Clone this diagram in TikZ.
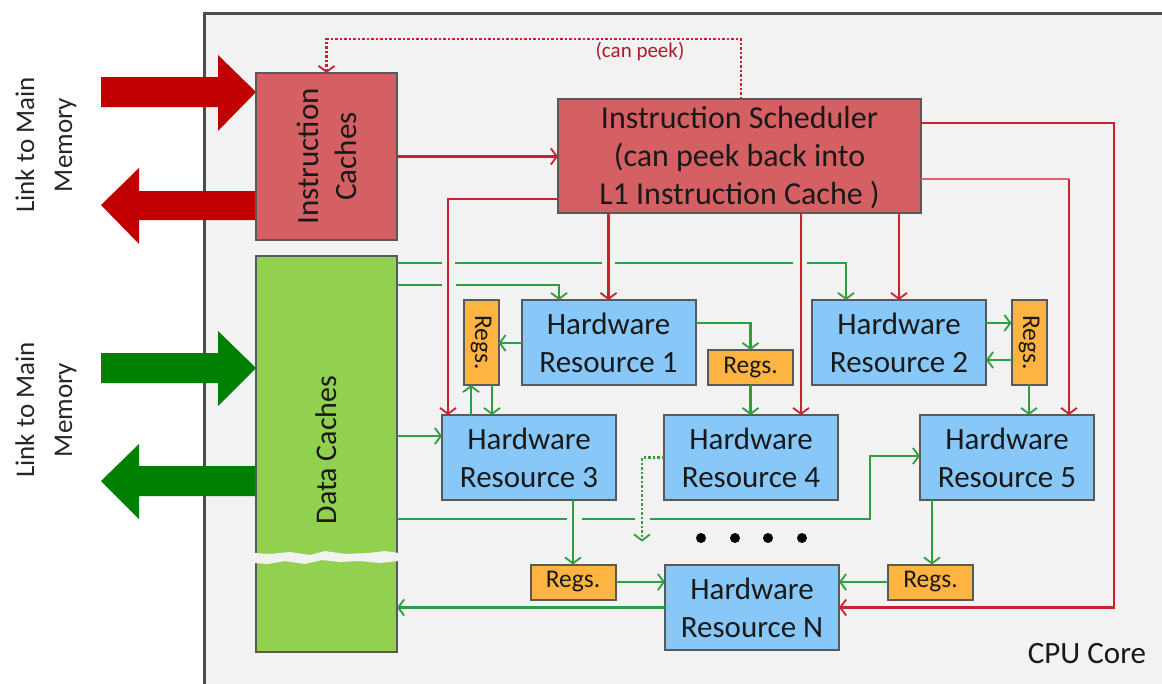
\documentclass[tikz,border=0pt]{standalone}
\usepackage{fontspec}
\setmainfont{Carlito}
\usetikzlibrary{arrows.meta,calc}
\definecolor{bgc}{HTML}{F2F2F2}
\definecolor{redfill}{HTML}{D56063}
\definecolor{redline}{HTML}{C8222F}
\definecolor{bigred}{HTML}{C00000}
\definecolor{greenfill}{HTML}{92D050}
\definecolor{greenline}{HTML}{2F9E3F}
\definecolor{biggreen}{HTML}{008000}
\definecolor{bluefill}{HTML}{87C8F8}
\definecolor{orangefill}{HTML}{FFB341}
\definecolor{edgec}{HTML}{595959}
\tikzset{
  x=1pt,y=-1pt,
  box/.style={draw=edgec,line width=2pt,inner sep=0pt,outer sep=0pt,align=center,text=black!90,font=\fontsize{31}{38}\selectfont},
  redbox/.style={box,fill=redfill},
  greenbox/.style={box,fill=greenfill},
  hw/.style={box,fill=bluefill,minimum width=174pt,minimum height=85pt},
  regsh/.style={box,fill=orangefill,minimum width=85pt,minimum height=35pt,font=\fontsize{25.5}{30}\selectfont},
  regsv/.style={regsh,rotate=-90},
  rline/.style={draw=redline,line width=2.2pt,-{Straight Barb[length=6pt,width=16pt,line width=1.8pt]}},
  gline/.style={draw=greenline,line width=2.2pt,-{Straight Barb[length=6pt,width=16pt,line width=1.8pt]}},
  dotline/.style={dash pattern=on 2.5pt off 2pt},
  lbl/.style={align=center,inner sep=0pt,text=black!85,font=\fontsize{27}{38}\selectfont},
}
\begin{document}
\begin{tikzpicture}
\clip (0,0) rectangle (1162,683);
\fill[white] (0,0) rectangle (1162,683);
% CPU core
\node[draw=black!70,line width=3pt,fill=bgc,minimum width=1000pt,minimum height=720pt,inner sep=0pt,outer sep=0pt] (cpu) at (704,373) {};
% big arrows
\fill[bigred] (101,77) -- (218,77) -- (218,55) -- (256,92) -- (218,131) -- (218,107) -- (101,107) -- cycle;
\fill[bigred] (256,191) -- (139,191) -- (139,168) -- (101,205) -- (139,244) -- (139,220) -- (256,220) -- cycle;
\fill[biggreen] (101,353) -- (218,353) -- (218,331) -- (256,368) -- (218,406) -- (218,383) -- (101,383) -- cycle;
\fill[biggreen] (256,466) -- (139,466) -- (139,444) -- (101,481) -- (139,519) -- (139,496) -- (256,496) -- cycle;
\node[lbl,rotate=90] (link1) at (46,145) {Link to Main\\Memory};
\node[lbl,rotate=90] (link2) at (46,410) {Link to Main\\Memory};
% main boxes
\node[redbox,rotate=90,minimum width=167pt,minimum height=141pt] (ic) at (326.5,156.5) {Instruction\\Caches};
\node[redbox,minimum width=363pt,minimum height=114pt,font=\fontsize{32}{38}\selectfont] (sched) at (739.5,156) {\rule{0pt}{26pt}Instruction Scheduler\\(can peek back into\\L1 Instruction Cache )};
\node[greenbox,minimum width=141pt,minimum height=396pt] (dc) at (326.5,454) {};
\node[rotate=90,inner sep=0pt,text=black!90,font=\fontsize{30}{36}\selectfont] (dctext) at (326,450) {Data Caches};
\fill[bgc] (254,553) -- (270,554) -- (290,552) -- (310,555) -- (325,551) -- (345,554) -- (368,553) -- (385,551) -- (399,553)
  -- (399,561) -- (380,563) -- (360,561) -- (340,562) -- (322,560) -- (305,564) -- (285,561) -- (268,564) -- (254,563) -- cycle;
\node[hw] (hr1) at (608.5,342.5) {Hardware\\Resource 1};
\node[hw] (hr2) at (899,342.5) {Hardware\\Resource 2};
\node[hw] (hr3) at (529,457.5) {Hardware\\Resource 3};
\node[hw] (hr4) at (751,457.5) {Hardware\\Resource 4};
\node[hw] (hr5) at (1007,457.5) {Hardware\\Resource 5};
\node[hw] (hrn) at (752,607.5) {Hardware\\Resource N};
\node[regsv] (ra) at (481,342.5) {Regs.};
\node[regsh] (rb) at (750.5,367.5) {Regs.};
\node[regsv] (rc) at (1029,342.5) {Regs.};
\node[regsh] (rd) at (573,582) {Regs.};
\node[regsh] (re) at (930.5,582) {Regs.};
% green connectors
\draw[gline] ([yshift=-7pt]dc.north east) -- ++(45,0) ++(13,0) -- ++(147,0) ++(13,0) -- ++(178,0) ++(14,0) -| ([xshift=-53pt]hr2.north);
\draw[gline] ([yshift=-29pt]dc.north east) -- ++(45,0) ++(14,0) -| ([xshift=-49.5pt]hr1.north);
\draw[gline] ([yshift=18pt]dc.east) -- ([yshift=21.5pt]hr3.west);
\draw[gline,line width=1.6pt] ([yshift=133pt]dc.south east) -- ++(170,0) ++(15,0) -- ++(53,0) ++(15,0) -- ++(220,0) -- ++(0,-63) -- ([yshift=1.5pt]hr5.west);
\draw[gline] ([yshift=-0.5pt]hr1.west) -- ([yshift=-0.5pt]ra.north);
\draw[gline] ([xshift=-10pt]ra.east |- hr3.north) -- ([xshift=-10pt]ra.east);
\draw[gline] ([xshift=11pt]ra.east) -- ([xshift=11pt]ra.east |- hr3.north);
\draw[gline] ([yshift=19.5pt]hr1.east) -| (rb.north);
\draw[gline] (rb.south) -- (rb.south |- hr4.north);
\draw[gline] ([yshift=19.5pt]hr2.east) -- ([yshift=19.5pt]hr2.east -| rc.south);
\draw[gline] ([yshift=-17.5pt]rc.south) -- ([yshift=-17.5pt]rc.south -| hr2.east);
\draw[gline] (rc.east) -- (rc.east |- hr5.north);
\draw[gline] ([xshift=44pt]hr3.south) -- (rd.north);
\draw[gline,line width=1.6pt] (rd.east) -- (rd.east -| hrn.west);
\draw[gline,line width=1.6pt] (re.west) -- (re.west -| hrn.east);
\draw[gline] ([xshift=-75pt]hr5.south) -- ([xshift=1.5pt]re.north);
\draw[gline] (hrn.west) -- (hrn.west -| dc.east);
\draw[gline,dotline] (hr4.west) -- ++(-22,0) -- ++(0,84);
% red connectors
\draw[rline,dotline] ([xshift=1.5pt]sched.north) -- ++(0,-60) -| (ic.east);
\draw[rline] (ic.south) -- (ic.south -| sched.west);
\draw[rline] ([yshift=-43pt]sched.east -| sched.west) -| ([xshift=-81pt]hr3.north);
\draw[rline] (sched.south -| hr1.north) -- (hr1.north);
\draw[rline] (sched.south -| hr2.north) -- (hr2.north);
\draw[rline] ([xshift=50pt]hr4.north |- sched.south) -- ([xshift=50pt]hr4.north);
\draw[redline!70,line width=1.2pt] ([yshift=-23pt]sched.east) -- ++(148,0) coordinate (bend5);
\draw[rline] (bend5) -- ([xshift=62pt]hr5.north);
\draw[rline] ([yshift=33pt]sched.east) -- ++(193,0) |- (hrn.east);
\node[inner sep=0pt,text=redline!85!black,font=\fontsize{21}{25}\selectfont] (peek) at (640,52) {(can peek)};
% dots
\foreach \n/\xx in {d1/701,d2/735,d3/768,d4/802}
  \node[circle,fill=black,inner sep=0pt,minimum size=10pt] (\n) at (\xx,538) {};
\node[inner sep=0pt,text=black!90,font=\fontsize{31}{36}\selectfont] (core) at (1087,654) {CPU Core};
\end{tikzpicture}
\end{document}
